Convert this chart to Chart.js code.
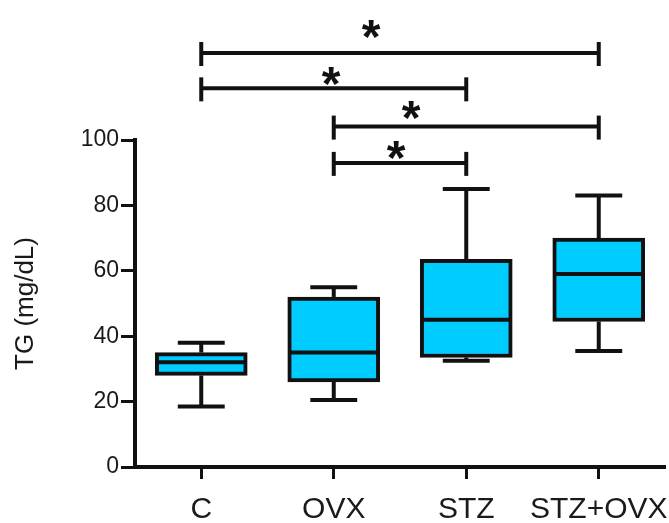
<!DOCTYPE html>
<html><head><meta charset="utf-8">
<script src="https://cdn.jsdelivr.net/npm/chart.js@4"></script>
<style>html,body{margin:0;padding:0;background:#fff}#wrap{width:669px;height:523px}</style>
</head><body><div id="wrap"><canvas id="c" width="669" height="523"></canvas></div>
<script>
// ---- data ----
const categories = ['C', 'OVX', 'STZ', 'STZ+OVX'];
const whiskerMin = [18.5, 20.5, 32.5, 35.5];
const quartile1  = [28, 26, 33.5, 44.5];
const medians    = [32, 35, 45, 59];
const quartile3  = [35, 52, 63.5, 70];
const whiskerMax = [38, 55, 85, 83];
const yTickMin = 0, yTickMax = 100, yTickStep = 20;
const axisTitle = 'TG (mg/dL)';
// significance brackets (category indices) and their heights in TG units
const comparisonFrom  = [0, 0, 1, 1];
const comparisonTo    = [3, 2, 3, 2];
const comparisonLevel = [126.6, 115.8, 104.1, 93.0];
const starX = [1.281, 0.979, 1.583, 1.470];
const starY = [135.0, 120.6, 110.4, 97.9];
const starLabel = ['*', '*', '*', '*'];

const INK = '#111';
const FILL = '#00CCFF';
const FONT = '"Liberation Sans", Arial, sans-serif';

const boxExtras = {
  id: 'boxExtras',
  afterDatasetsDraw(chart) {
    const ctx = chart.ctx, ys = chart.scales.y;
    const meta = chart.getDatasetMeta(0);
    ctx.save();
    ctx.strokeStyle = INK; ctx.lineWidth = 4; ctx.lineCap = 'butt';
    const seg = (x1, y1, x2, y2) => { ctx.beginPath(); ctx.moveTo(x1, y1); ctx.lineTo(x2, y2); ctx.stroke(); };
    meta.data.forEach((bar, i) => {
      const p = bar.getProps(['x', 'width'], true);
      const cx = p.x, w = p.width, cap = w * 0.255;
      const pMin = ys.getPixelForValue(whiskerMin[i]);
      const pQ1 = ys.getPixelForValue(quartile1[i]);
      const pMed = ys.getPixelForValue(medians[i]);
      const pQ3 = ys.getPixelForValue(quartile3[i]);
      const pMax = ys.getPixelForValue(whiskerMax[i]);
      seg(cx, pQ3, cx, pMax); seg(cx - cap, pMax, cx + cap, pMax);
      seg(cx, pQ1, cx, pMin); seg(cx - cap, pMin, cx + cap, pMin);
      seg(cx - w / 2 + 2, pMed, cx + w / 2 - 2, pMed);
    });
    ctx.restore();
  },
  afterDraw(chart) {
    const ctx = chart.ctx, xs = chart.scales.x, ys = chart.scales.y;
    ctx.save();
    ctx.strokeStyle = INK; ctx.lineWidth = 4; ctx.lineCap = 'butt';
    const seg = (x1, y1, x2, y2) => { ctx.beginPath(); ctx.moveTo(x1, y1); ctx.lineTo(x2, y2); ctx.stroke(); };
    comparisonFrom.forEach((a, i) => {
      const x1 = xs.getPixelForValue(a), x2 = xs.getPixelForValue(comparisonTo[i]);
      const py = ys.getPixelForValue(comparisonLevel[i]);
      seg(x1, py, x2, py);
      seg(x1, py - 11, x1, py + 13);
      seg(x2, py - 11, x2, py + 13);
    });
    const size = 48;
    ctx.fillStyle = INK;
    ctx.font = 'bold ' + size + 'px ' + FONT;
    ctx.textAlign = 'center'; ctx.textBaseline = 'alphabetic';
    starLabel.forEach((s, i) => {
      const px = xs.getPixelForValue(starX[i]);
      const py = ys.getPixelForValue(starY[i]);
      ctx.fillText(s, px, py + 0.575 * size);
    });
    ctx.restore();
  }
};

new Chart(document.getElementById('c'), {
  type: 'bar',
  data: {
    labels: categories,
    datasets: [{
      data: quartile1.map((q, i) => [q, quartile3[i]]),
      backgroundColor: FILL,
      borderColor: INK,
      borderWidth: 4,
      borderSkipped: false,
      barThickness: 92
    }]
  },
  options: {
    responsive: false,
    animation: false,
    layout: { padding: { top: 140, left: 0, right: 4, bottom: 0 } },
    plugins: { legend: { display: false }, tooltip: { enabled: false } },
    scales: {
      x: {
        type: 'category',
        offset: true,
        afterFit: (s) => { s.height = 56; s.paddingLeft = 0; s.paddingRight = 0; },
        grid: { display: true, offset: false, drawOnChartArea: false, drawTicks: true, tickLength: 12, tickWidth: 3, tickColor: INK },
        border: { display: true, color: INK, width: 4 },
        ticks: { color: '#1a1a1a', padding: 13, maxRotation: 0, minRotation: 0, autoSkip: false,
                 font: { family: FONT, size: 30 } }
      },
      y: {
        min: yTickMin, max: yTickMax,
        afterFit: (s) => { s.width = 135; },
        grid: { display: true, drawOnChartArea: false, drawTicks: true, tickLength: 14, tickWidth: 3, tickColor: INK },
        border: { display: true, color: INK, width: 4 },
        ticks: { stepSize: yTickStep, color: '#1a1a1a', padding: 2,
                 font: { family: FONT, size: 23 } },
        title: { display: true, text: axisTitle, color: '#1a1a1a', padding: { top: 10, bottom: 0 },
                 font: { family: FONT, size: 26 } }
      }
    }
  },
  plugins: [boxExtras]
});
</script>
</body></html>
